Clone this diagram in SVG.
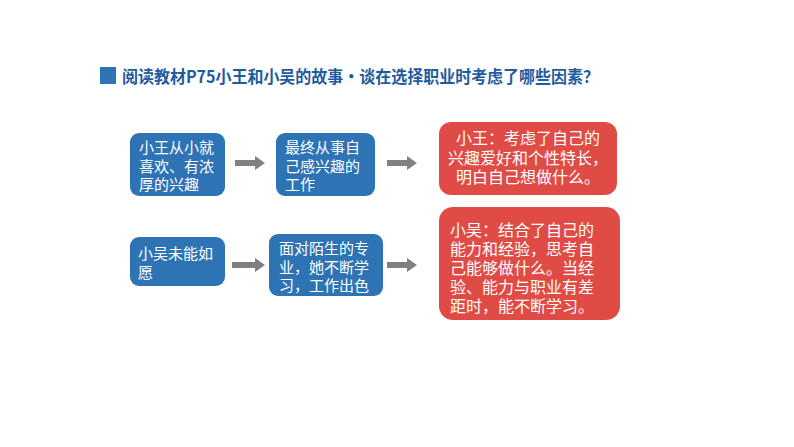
<svg xmlns="http://www.w3.org/2000/svg" width="794" height="447" viewBox="0 0 794 447">
<style>
text{font-family:"Noto Sans CJK SC","Liberation Sans",sans-serif;}
.blue{fill:#2E74B5;}
.red{fill:#E04C45;}
.t{fill:#fff;font-size:15px;}
.r{fill:#fff;font-size:16px;}
.arr{fill:#808080;}
</style>
<rect width="794" height="447" fill="#fff"/>
<g id="title">
<rect x="100" y="67" width="16" height="17" fill="#2E74B5"/>
<text x="122" y="83" font-size="17" font-weight="bold" fill="#1F5C9E" textLength="477" lengthAdjust="spacingAndGlyphs">阅读教材P75小王和小吴的故事•谈在选择职业时考虑了哪些因素？</text>
</g>
<g id="n1">
<rect class="blue" x="130" y="133" width="95" height="63" rx="9"/>
<text class="t"><tspan x="139" y="153">小王从小就</tspan><tspan x="139" y="172">喜欢、有浓</tspan><tspan x="139" y="190">厚的兴趣</tspan></text>
</g>
<g id="n2">
<rect class="blue" x="276" y="133" width="99" height="63" rx="9"/>
<text class="t"><tspan x="285" y="153">最终从事自</tspan><tspan x="285" y="172">己感兴趣的</tspan><tspan x="285" y="190">工作</tspan></text>
</g>
<g id="n3">
<rect class="red" x="439" y="122" width="178" height="73" rx="12"/>
<text class="r" text-anchor="middle"><tspan x="528" y="144">小王：考虑了自己的</tspan><tspan x="528" y="164">兴趣爱好和个性特长，</tspan><tspan x="528" y="183">明白自己想做什么。</tspan></text>
</g>
<g id="n4">
<rect class="blue" x="130" y="237" width="95" height="49" rx="9"/>
<text class="t"><tspan x="138" y="259">小吴未能如</tspan><tspan x="138" y="278">愿</tspan></text>
</g>
<g id="n5">
<rect class="blue" x="269" y="234" width="114" height="62" rx="9"/>
<text class="t"><tspan x="279" y="254">面对陌生的专</tspan><tspan x="279" y="273">业，她不断学</tspan><tspan x="279" y="291">习，工作出色</tspan></text>
</g>
<g id="n6">
<rect class="red" x="439" y="207" width="181" height="113" rx="14"/>
<text class="r"><tspan x="450" y="236">小吴：结合了自己的</tspan><tspan x="450" y="255">能力和经验，思考自</tspan><tspan x="450" y="274">己能够做什么。当经</tspan><tspan x="450" y="293">验、能力与职业有差</tspan><tspan x="450" y="312">距时，能不断学习。</tspan></text>
</g>
<g id="connectors">
<polygon class="arr" points="235,160 255,160 255,156 265,163 255,170 255,166 235,166"/>
<polygon class="arr" points="387,160 407,160 407,156 417,163 407,170 407,166 387,166"/>
<polygon class="arr" points="232,262 255,262 255,258 265,265 255,272 255,268 232,268"/>
<polygon class="arr" points="387,262 407,262 407,258 417,265 407,272 407,268 387,268"/>
</g>
</svg>
